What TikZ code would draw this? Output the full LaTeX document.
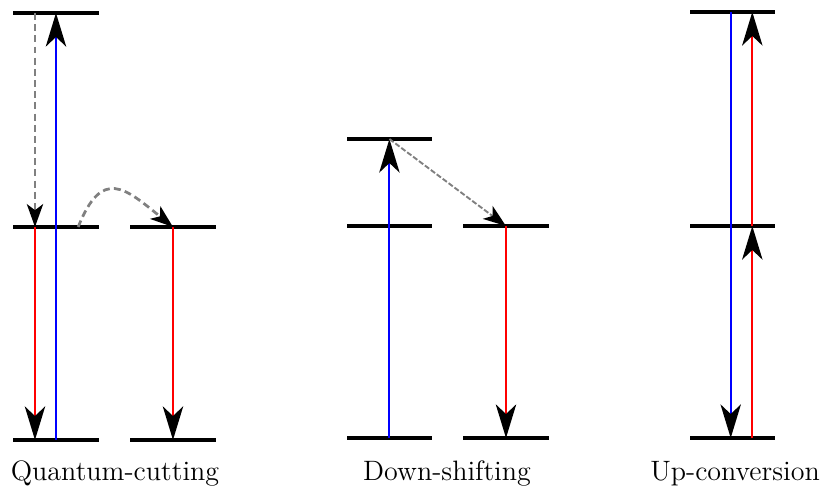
\documentclass[tikz,border=0pt]{standalone}
\usetikzlibrary{arrows.meta,positioning}

\begin{document}
\begin{tikzpicture}[
  font=\fontsize{13.3}{16}\selectfont,
  lvl/.style={fill=black,inner sep=0pt,minimum width=1.42cm,minimum height=1.9pt},
  bigtip/.style={-{Stealth[length=5.6mm,width=3.4mm,inset=1.6mm,color=black,fill=black]}},
  pump/.style={bigtip,draw=blue,line width=1pt},
  emit/.style={bigtip,draw=red,line width=1pt},
  relax/.style={-{Stealth[length=3.8mm,width=2.7mm,inset=1mm,color=black,fill=black]},
                draw=gray,line width=1.3pt,dash pattern=on 3.3pt off 2pt},
  lab/.style={anchor=base}]
\useasboundingbox (0,0) rectangle (13.733,8.15);

% ---- quantum cutting -----------------------------------------------------
\node[lvl] (q3) at (0.933,7.933) {};
\node[lvl] (q2) at (0.933,4.367) {};
\node[lvl] (q1) at (0.933,0.817) {};
\node[lvl] (r2) at (2.883,4.367) {};
\node[lvl] (r1) at (2.883,0.817) {};
\draw[pump]  (q1.center) -- (q3.center);
\draw[relax] ([xshift=-3.5mm]q3.center) -- ([xshift=-3.5mm]q2.center);
\draw[emit]  ([xshift=-3.5mm]q2.center) -- ([xshift=-3.5mm]q1.center);
\draw[relax] ([xshift=3.7mm]q2.center) .. controls +(0.4,1.0) and +(-0.8,0.65) .. (r2.center);
\draw[emit]  (r2.center) -- (r1.center);
\node[lab] (qlab) at (1.917,0.15) {Quantum-cutting};

% ---- down shifting -------------------------------------------------------
\node[lvl] (d3) at (6.49,5.833) {};
\node[lvl] (d2) at (6.49,4.383) {};
\node[lvl] (d1) at (6.49,0.85) {};
\node[lvl] (e2) at (8.433,4.383) {};
\node[lvl] (e1) at (8.433,0.85) {};
\draw[pump]  (d1.center) -- (d3.center);
\draw[relax,line width=0.9pt,dash pattern=on 2.5pt off 1pt] (d3.center) -- (e2.center);
\draw[emit]  (e2.center) -- (e1.center);
\node[lab] (dlab) at (7.45,0.15) {Down-shifting};

% ---- up conversion -------------------------------------------------------
\node[lvl] (u3) at (12.208,7.95) {};
\node[lvl] (u2) at (12.208,4.383) {};
\node[lvl] (u1) at (12.208,0.85) {};
\draw[pump] ([xshift=-0.3mm]u3.center) -- ([xshift=-0.3mm]u1.center);
\draw[emit] ([xshift=3.3mm]u1.center) -- ([xshift=3.3mm]u2.center);
\draw[emit] ([xshift=3.3mm]u2.center) -- ([xshift=3.3mm]u3.center);
\node[lab] (ulab) at (12.25,0.15) {Up-conversion};
\end{tikzpicture}
\end{document}
